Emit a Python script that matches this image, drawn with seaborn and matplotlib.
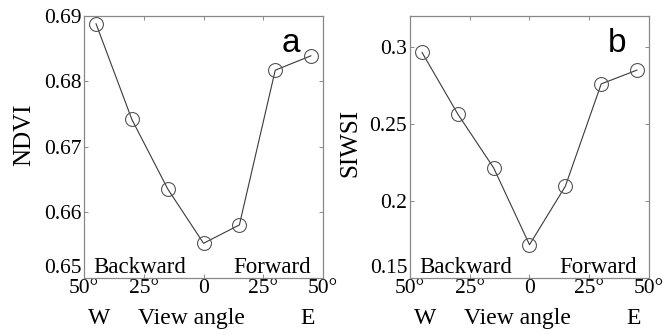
import matplotlib
matplotlib.use("Agg")
import matplotlib.pyplot as plt
import seaborn as sns
import pandas as pd

# View angles (negative = backward / west, positive = forward / east)
view_angle = [-45, -30, -15, 0, 15, 30, 45]
ndvi = [0.6888, 0.6742, 0.6636, 0.6553, 0.6581, 0.6817, 0.6839]
siwsi = [0.2963, 0.2563, 0.2214, 0.1716, 0.2095, 0.2758, 0.2848]

xtick_pos = [-50, -25, 0, 25, 50]
xtick_labels = ["50°", "25°", "0", "25°", "50°"]
ndvi_ticks = [0.65, 0.66, 0.67, 0.68, 0.69]
ndvi_tick_labels = ["0.65", "0.66", "0.67", "0.68", "0.69"]
siwsi_ticks = [0.15, 0.2, 0.25, 0.3]
siwsi_tick_labels = ["0.15", "0.2", "0.25", "0.3"]

df = pd.DataFrame({"angle": view_angle, "NDVI": ndvi, "SIWSI": siwsi})

sns.set_theme(style="ticks")
plt.rcParams["font.family"] = ["Liberation Serif", "DejaVu Serif"]

fig = plt.figure(figsize=(6.67, 3.35), dpi=100)
ax_a = fig.add_axes([0.126, 0.170, 0.3583, 0.783])
ax_b = fig.add_axes([0.6147, 0.170, 0.3583, 0.783])

panels = [
    (ax_a, "NDVI", (0.65, 0.69), ndvi_ticks, ndvi_tick_labels, "a", 0.545),
    (ax_b, "SIWSI", (0.15, 0.32), siwsi_ticks, siwsi_tick_labels, "b", 0.515),
]

for ax, col, ylim, yt, ytl, letter, label_y in panels:
    sns.lineplot(data=df, x="angle", y=col, ax=ax, color="#3a3a3a",
                 linewidth=0.8, marker="o", markersize=10,
                 markerfacecolor="none", markeredgecolor="#555555",
                 markeredgewidth=0.8)
    ax.set_xlim(-50, 50)
    ax.set_ylim(*ylim)
    ax.set_xticks(xtick_pos)
    ax.set_xticklabels(xtick_labels)
    ax.set_yticks(yt)
    ax.set_yticklabels(ytl)
    ax.tick_params(direction="in", length=3, width=0.6, color="#777777",
                   labelsize=15.5, top=True, right=True,
                   labelcolor="black")
    ax.tick_params(axis="x", pad=1)
    ax.tick_params(axis="y", pad=2)
    # lowest y label sits just above the bottom spine
    ax.get_yticklabels()[0].set_verticalalignment("bottom")
    for sp in ax.spines.values():
        sp.set_color("#888888")
        sp.set_linewidth(0.9)
        sp.set_visible(True)
    ax.set_xlabel("")
    ax.set_ylabel(col, fontsize=18, color="black")
    ax.yaxis.set_label_coords(-0.205, label_y)

    ax.text(-46, 0.02, "Backward", transform=ax.get_xaxis_transform(),
            ha="left", va="baseline", fontsize=16.5, color="black")
    ax.text(45, 0.02, "Forward", transform=ax.get_xaxis_transform(),
            ha="right", va="baseline", fontsize=16.5, color="black")
    ax.text(36.5, 0.862, letter, transform=ax.get_xaxis_transform(),
            ha="center", va="baseline", fontsize=24, color="black",
            family=["Liberation Sans", "DejaVu Sans"])

    # Second row under the tick labels: direction markers and axis title
    for xv, s in [(-43.5, "W"), (-5, "View angle"), (43.5, "E")]:
        ax.text(xv, -0.154, s, transform=ax.get_xaxis_transform(),
                ha="center", va="center", fontsize=17, color="black")

fig.savefig("out.png", dpi=100, facecolor="white")
